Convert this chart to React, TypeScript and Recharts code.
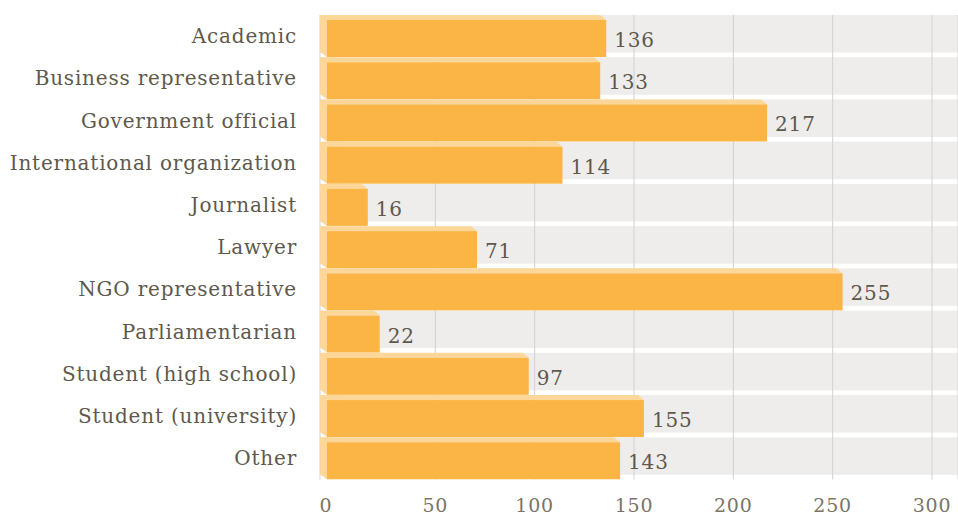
import React from 'react';
import { BarChart, Bar, XAxis, YAxis, CartesianGrid, LabelList } from 'recharts';

const categories = [
  'Academic',
  'Business representative',
  'Government official',
  'International organization',
  'Journalist',
  'Lawyer',
  'NGO representative',
  'Parliamentarian',
  'Student (high school)',
  'Student (university)',
  'Other',
];
const counts = [136, 133, 217, 114, 16, 71, 255, 22, 97, 155, 143];
const xTicks = [0, 50, 100, 150, 200, 250, 300];

const data = categories.map((name, i) => ({ name, value: counts[i] }));

const FONT = '"DejaVu Serif", serif';
const TEXT = '#5e594c';
const TICK = '#7b7567';
const ORANGE = '#fbb545';
const LIGHT = '#fdd79a';
const BAND = '#eeedeb';

// 3d-ish bar: light strip on top and left, orange face
const Bar3D = (props: any) => {
  const { x, y, width, height } = props;
  const s = 5;
  const left = x - 16;
  const face = left + 7;
  const end = x + width;
  const light = `M${left},${y} L${end - 6},${y} L${end},${y + s} L${face},${y + s} L${face},${y + height} L${left},${y + height - s} Z`;
  return (
    <g>
      <path d={light} fill={LIGHT} />
      <rect x={face} y={y + s} width={end - face} height={height - s} fill={ORANGE} />
    </g>
  );
};

const Band = (props: any) => {
  const { x, y, width, height } = props;
  return <rect x={x} y={y} width={width} height={height - 4.5} fill={BAND} />;
};

const ValueLabel = (props: any) => {
  const { x, y, width, height, value } = props;
  return (
    <text x={x + width + 8} y={y + height / 2 + 4} dominantBaseline="central" fill={TEXT} fontSize={20} letterSpacing={0.8} fontFamily={FONT}>
      {value}
    </text>
  );
};

const CatTick = (props: any) => {
  const { x, y, payload } = props;
  return (
    <text x={x} y={y} textAnchor="end" dominantBaseline="central" fill={TEXT} fontSize={20} letterSpacing={0.8} fontFamily={FONT}>
      {payload.value}
    </text>
  );
};

const NumTick = (props: any) => {
  const { x, y, payload } = props;
  return (
    <text x={payload.value === 0 ? x - 10 : x} y={y} textAnchor="middle" dominantBaseline="central" fill={TICK} fontSize={19} letterSpacing={0.8} fontFamily={FONT}>
      {payload.value}
    </text>
  );
};

export default function App() {
  return (
    <div style={{ position: 'absolute', left: 0, top: 0, width: 958, height: 516, background: '#fff' }}>
      <BarChart
        width={958}
        height={516}
        data={data}
        layout="vertical"
        barCategoryGap={0}
        margin={{ top: 15, right: 0, bottom: 0, left: 0 }}
      >
        <CartesianGrid horizontal={false} stroke="#d3d1ce" zIndex={-10} />
        <XAxis
          type="number"
          domain={[-8.054, 313.087]}
          ticks={xTicks}
          allowDataOverflow
          axisLine={false}
          tickLine={false}
          tickSize={0}
          tickMargin={25.5}
          height={36.5}
          tick={<NumTick />}
        />
        <YAxis
          type="category"
          dataKey="name"
          width={320}
          axisLine={false}
          tickLine={false}
          tickSize={0}
          tickMargin={23}
          interval={0}
          tick={<CatTick />}
        />
        <Bar dataKey="value" isAnimationActive={false} background={<Band />} shape={<Bar3D />}>
          <LabelList dataKey="value" content={<ValueLabel />} />
        </Bar>
      </BarChart>
    </div>
  );
}
